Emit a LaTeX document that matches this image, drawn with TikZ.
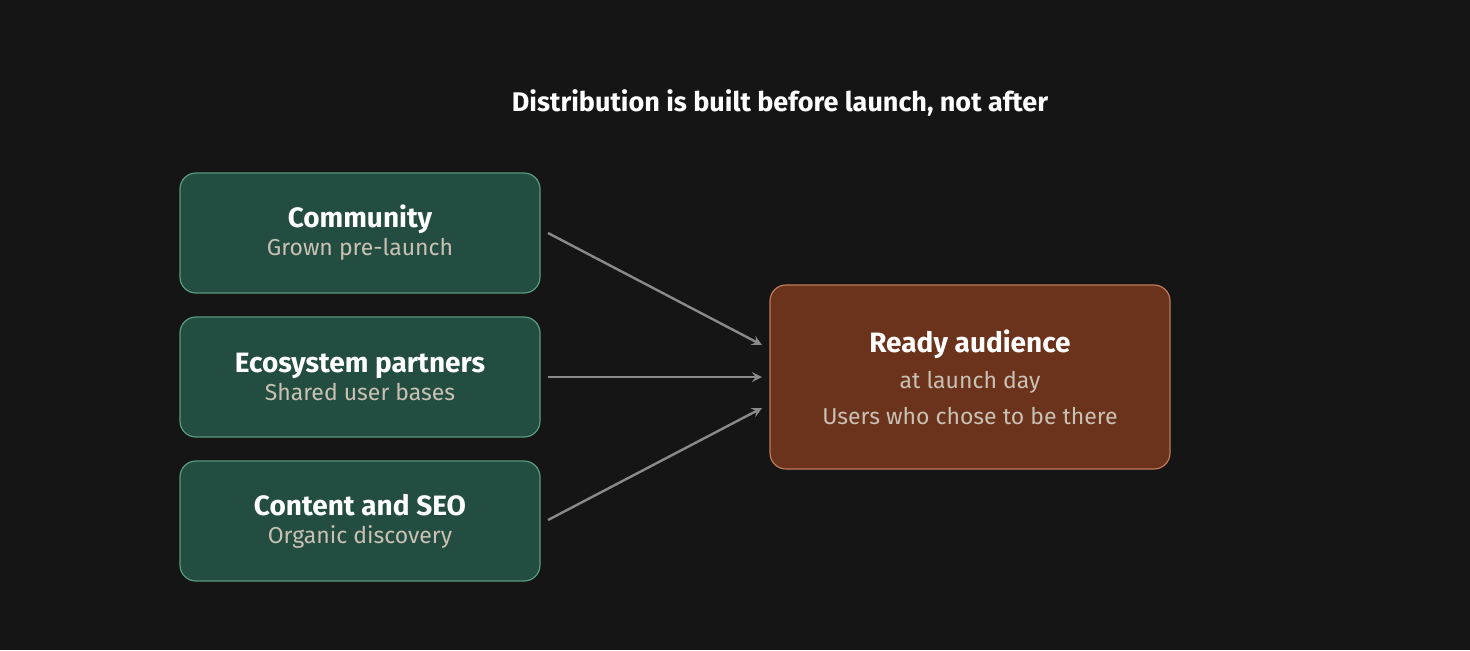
\documentclass[tikz,border=0pt]{standalone}
\usepackage{fontspec}
\setmainfont{Fira Sans}
\usetikzlibrary{positioning}
\definecolor{bgc}{HTML}{151515}
\definecolor{grfill}{HTML}{234D40}
\definecolor{grline}{HTML}{5A9C80}
\definecolor{orfill}{HTML}{6B321C}
\definecolor{orline}{HTML}{C07A5A}
\definecolor{subc}{HTML}{C9C2B4}
\definecolor{arrc}{HTML}{8A8A8A}
\tikzset{
  src/.style={draw=grline, fill=grfill, rounded corners=8pt, minimum width=180pt, minimum height=60pt, align=center, text=white, line width=0.6pt},
  dst/.style={draw=orline, fill=orfill, rounded corners=8pt, minimum width=200pt, minimum height=92pt, align=center, text=white, line width=0.6pt},
  arrow/.style={draw=arrc, line width=1.2pt, ->, >=stealth},
  sub/.style={text=subc, font=\fontsize{11.5}{14}\selectfont}
}
\begin{document}
\begin{tikzpicture}[x=0.5pt,y=-0.5pt]
  \fill[bgc] (0,0) rectangle (1470,650);
  \useasboundingbox (0,0) rectangle (1470,650);

  % title
  \node[text=white, font=\fontsize{13.5}{16}\selectfont\bfseries] (title) at (780,103) {Distribution is built before launch, not after};

  % sources
  \node[src] (comm) at (360,233) {{\fontsize{14}{17}\selectfont\bfseries Community}\\[2pt]{\color{subc}\fontsize{11.5}{14}\selectfont Grown pre-launch}};
  \node[src] (eco) at (360,377) {{\fontsize{14}{17}\selectfont\bfseries Ecosystem partners}\\[2pt]{\color{subc}\fontsize{11.5}{14}\selectfont Shared user bases}};
  \node[src] (seo) at (360,521) {{\fontsize{14}{17}\selectfont\bfseries Content and SEO}\\[2pt]{\color{subc}\fontsize{11.5}{14}\selectfont Organic discovery}};

  % target
  \node[dst] (aud) at (970,377) {{\fontsize{14}{17}\selectfont\bfseries Ready audience}\\[6pt]{\color{subc}\fontsize{11.5}{14}\selectfont at launch day}\\[6pt]{\color{subc}\fontsize{11.5}{14}\selectfont Users who chose to be there}};

  % arrow ends
  \coordinate (a1) at (762,345);
  \coordinate (a2) at (762,377);
  \coordinate (a3) at (762,408);
  \coordinate (s1) at (548,233);
  \coordinate (s2) at (548,377);
  \coordinate (s3) at (548,520);

  \draw[arrow] (s1) -- (a1);
  \draw[arrow] (s2) -- (a2);
  \draw[arrow] (s3) -- (a3);
\end{tikzpicture}
\end{document}
